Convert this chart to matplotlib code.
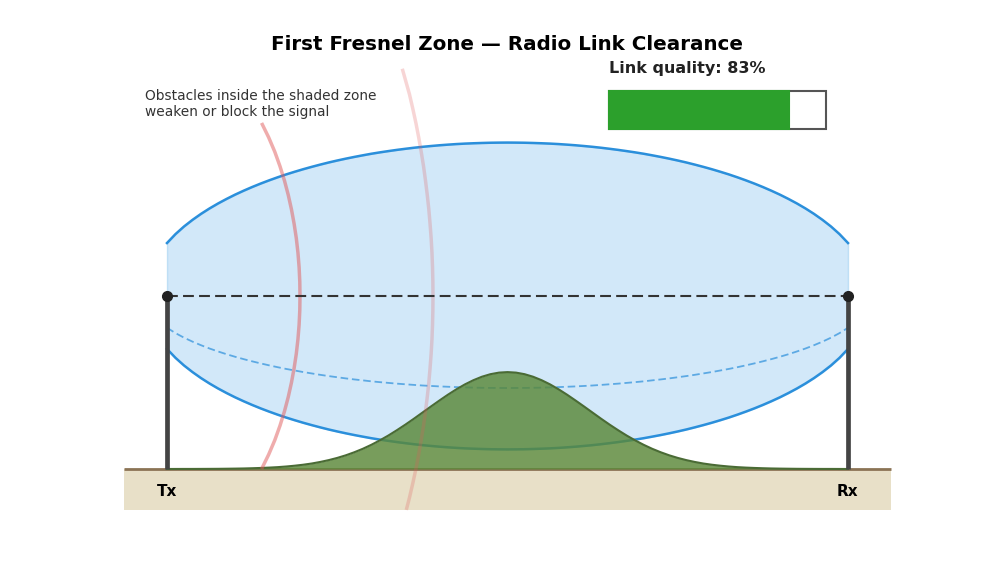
import numpy as np
import matplotlib
matplotlib.use("Agg")
import matplotlib.pyplot as plt
from matplotlib.patches import Rectangle

# distance along the link (km), heights in m
distance = np.arange(81) * 0.125

# the picture is symmetric, these go from the Tx end to the middle
zone_radius_half = [
    9.18, 10.73, 12.05, 13.20, 14.24, 15.18, 16.04, 16.83, 17.57, 18.25, 18.89,
    19.49, 20.05, 20.58, 21.08, 21.54, 21.98, 22.39, 22.78, 23.15, 23.49,
    23.81, 24.11, 24.39, 24.66, 24.90, 25.12, 25.33, 25.52, 25.70, 25.86,
    26.00, 26.13, 26.24, 26.34, 26.42, 26.48, 26.53, 26.57, 26.59, 26.60]

clearance_half = [
    5.51, 6.44, 7.23, 7.92, 8.54, 9.11, 9.62, 10.10, 10.54, 10.95, 11.33,
    11.69, 12.03, 12.35, 12.65, 12.92, 13.19, 13.43, 13.67, 13.89, 14.09,
    14.29, 14.47, 14.63, 14.80, 14.94, 15.07, 15.20, 15.31, 15.42, 15.52,
    15.60, 15.68, 15.74, 15.80, 15.85, 15.89, 15.92, 15.94, 15.95, 15.96]

terrain_half = [
    0.00, 0.005, 0.01, 0.01, 0.015, 0.022, 0.03, 0.046, 0.065, 0.09, 0.13,
    0.18, 0.24, 0.32, 0.43, 0.57, 0.74, 0.95, 1.22, 1.54, 1.92,
    2.37, 2.90, 3.50, 4.19, 4.96, 5.80, 6.72, 7.69, 8.71, 9.77,
    10.83, 11.87, 12.88, 13.82, 14.67, 15.40, 16.00, 16.44, 16.71, 16.80]

zone_radius = np.array(zone_radius_half + zone_radius_half[-2::-1])
clearance_60 = np.array(clearance_half + clearance_half[-2::-1])
terrain = np.array(terrain_half + terrain_half[-2::-1])

# wavefront arcs
front1_h = [0, 2.5, 5, 7.5, 10, 12.5, 15, 17.5, 20, 22.5, 25, 27.5, 30, 32.5, 35,
            37.5, 40, 42.5, 45, 47.5, 50, 52.5, 55, 57.5, 60]
front1_x = [1.389, 1.493, 1.583, 1.659, 1.725, 1.781, 1.828, 1.867, 1.899, 1.923, 1.940, 1.950, 1.953,
            1.950, 1.940, 1.923, 1.899, 1.867, 1.828, 1.781, 1.725, 1.659, 1.583, 1.493, 1.389]
front2_h = [-7.1, -5, -2.5, 0, 2.5, 5, 7.5, 10, 12.5, 15, 17.5, 20, 22.5, 25, 27.5, 30,
            32.5, 35, 37.5, 40, 42.5, 45, 47.5, 50, 52.5, 55, 57.5, 60, 62.5, 65, 69.4]
front2_x = [3.514, 3.560, 3.609, 3.655, 3.696, 3.733, 3.767, 3.796, 3.822, 3.845, 3.863, 3.879, 3.891, 3.899, 3.904, 3.906,
            3.904, 3.899, 3.891, 3.879, 3.863, 3.845, 3.822, 3.796, 3.767, 3.733, 3.696, 3.655, 3.609, 3.560, 3.455]

tx_x, rx_x = 0, 10
mast_height = 30
link_quality = 0.83

BLUE = "#2b8fdb"

fig = plt.figure(figsize=(9.9, 5.72), dpi=100)
ax = fig.add_axes([0, 0, 1, 1])
ax.set_xlim(-2.452, 12.085)
ax.set_ylim(-17.86, 81.32)
ax.axis("off")

# ground
ax.add_patch(Rectangle((-0.63, -7.1), 11.26, 7.1, facecolor="#e8e0c8", edgecolor="none", zorder=1))
ax.plot([-0.63, 10.63], [0, 0], color="#8b7355", lw=2, solid_capstyle="butt", zorder=2)

# fresnel zone
ax.fill_between(distance, mast_height - zone_radius, mast_height + zone_radius,
                color="#1e90e1", alpha=0.2, lw=1, zorder=3)
ax.plot(distance, mast_height + zone_radius, color=BLUE, lw=1.8, zorder=4)
ax.plot(distance, mast_height - zone_radius, color=BLUE, lw=1.8, zorder=4)
ax.plot(distance, mast_height - clearance_60, color=BLUE, lw=1.3, alpha=0.7,
        linestyle=(0, (4.2, 2.1)), zorder=4)

# terrain bump
ax.fill_between(distance, 0, terrain, color="#5a8838", alpha=0.82, lw=0, zorder=5)
ax.plot(distance, terrain, color="#4a6b35", lw=1.5, zorder=6)

# wavefronts
ax.plot(front1_x, front1_h, color="#e05a5a", lw=2.5, alpha=0.5, zorder=7, solid_capstyle="butt")
ax.plot(front2_x, front2_h, color="#e05a5a", lw=2.5, alpha=0.25, zorder=7, solid_capstyle="butt")

# masts and line of sight
ax.plot([tx_x, rx_x], [mast_height, mast_height], color="#333333", lw=1.5,
        linestyle=(0, (5.2, 2.5)), zorder=8)
for x in (tx_x, rx_x):
    ax.plot([x, x], [0, mast_height], color="#444444", lw=3.4, solid_capstyle="butt", zorder=9)
    ax.plot(x, mast_height, "o", color="#222222", ms=7, zorder=10)

ax.text(tx_x, -3.9, "Tx", ha="center", va="center", fontsize=11, fontweight="bold", zorder=10)
ax.text(rx_x - 0.015, -3.9, "Rx", ha="center", va="center", fontsize=11, fontweight="bold", zorder=10)

# texts
ax.text(5, 73.55, "First Fresnel Zone \u2014 Radio Link Clearance", ha="center", va="center",
        fontsize=14.3, fontweight="bold")
ax.text(6.485, 69.5, "Link quality: 83%", ha="left", va="center", fontsize=11.5,
        fontweight="bold", color="#222222")
ax.text(-0.32, 63.33, "Obstacles inside the shaded zone\nweaken or block the signal", ha="left",
        va="center", fontsize=9.95, color="#333333")

# quality bar
bar_x, bar_y, bar_w, bar_h = 6.49, 58.96, 3.19, 6.59
ax.add_patch(Rectangle((bar_x, bar_y), bar_w, bar_h, facecolor="white", edgecolor="#555555", lw=1.5, zorder=3))
ax.add_patch(Rectangle((bar_x, bar_y), bar_w * link_quality, bar_h, facecolor="#2ca02c",
                       edgecolor="#2ca02c", lw=1.5, zorder=4))

fig.savefig("out.png", dpi=100)
